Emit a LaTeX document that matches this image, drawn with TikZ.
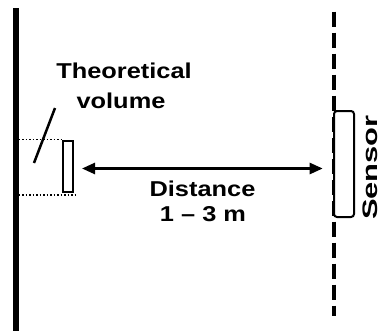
\documentclass[tikz,border=0pt]{standalone}
\usepackage{fontspec}
\setmainfont{Liberation Sans}
\usetikzlibrary{arrows.meta,calc}
\tikzset{
 lbl/.style={font=\bfseries\fontsize{21.5bp}{25bp}\selectfont, inner sep=0pt, anchor=base},
 boxn/.style={draw, line width=2bp, fill=white, inner sep=0pt},
 dotl/.style={line width=1.5bp, dash pattern=on 1.8bp off 1.7bp},
 arr/.style={line width=2.5bp, {Triangle[length=13bp,width=11bp]}-{Triangle[length=13bp,width=11bp]}},
}
\newcommand{\hsc}[1]{\scalebox{1.18}[1]{#1}}
\begin{document}
\begin{tikzpicture}[x=1bp,y=1bp]
\useasboundingbox (0,0) rectangle (382,-331);
% wall
\coordinate (wt) at (16,-8);
\coordinate (wb) at (16,-331);
\draw[line width=5bp] (wt) -- (wb);
% dashed sensor plane
\coordinate (dtop) at (333.5,-11.7);
\coordinate (dbot) at (333.5,-316);
\draw[line width=4bp, dash pattern=on 15.6bp off 5.4bp] (dtop) -- (dbot);
% boxes
\node[boxn, rounded corners=3bp, minimum width=20bp, minimum height=106bp] (sens) at (344,-164) {};
\node[boxn, minimum width=9.7bp, minimum height=50.7bp] (vol) at (68.2,-166.3) {};
% dotted lines
\coordinate (w1) at (18.5,-139.5);
\coordinate (w2) at (18.5,-195);
\draw[dotl] (w1) -- (w1 -| vol.west);
\draw[dotl] (w2) -- ($(w2 -| vol.east)+(1.5,0)$);
% slash
\coordinate (s1) at (34,-163);
\coordinate (s2) at (55,-108);
\draw[line width=2.5bp] (s1) -- (s2);
% arrow
\coordinate (aL) at (82,-168.5);
\coordinate (aR) at (322.7,-168.5);
\draw[arr] (aL) -- (aR);
% texts
\node[lbl] (t1) at (124,-78.5) {\hsc{Theoretical}};
\node[lbl] (t2) at (121,-108.5) {\hsc{volume}};
\node[lbl] (d1) at (202.5,-196) {\hsc{Distance}};
\node[lbl] (d2) at (203,-221.5) {\hsc{1 – 3 m}};
\node[lbl, font=\bfseries\fontsize{21bp}{25bp}\selectfont, rotate=90] (st) at (377.5,-167.5) {\scalebox{1.47}[1]{Sensor}};
\end{tikzpicture}
\end{document}
